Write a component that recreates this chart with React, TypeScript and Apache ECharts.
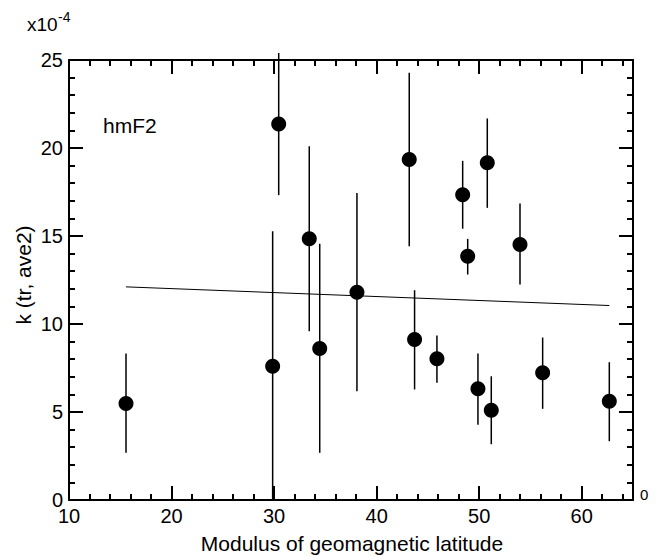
import React, { useEffect, useRef } from "react";
import * as echarts from "echarts";

const latitude = [15.56, 29.86, 30.45, 33.43, 34.45, 38.08, 43.18, 43.7, 45.88, 48.39, 48.88, 49.88, 50.79, 51.18, 53.98, 56.19, 62.69];
const kValue = [5.48, 7.6, 21.37, 14.84, 8.61, 11.81, 19.35, 9.12, 8.02, 17.34, 13.85, 6.32, 19.16, 5.1, 14.52, 7.23, 5.61];
const errHigh = [8.32, 15.27, 25.4, 20.1, 14.56, 17.44, 24.27, 11.92, 9.35, 19.27, 14.84, 8.32, 21.68, 7.03, 16.85, 9.23, 7.83];
const errLow = [2.68, 0, 17.32, 9.59, 2.68, 6.18, 14.42, 6.28, 6.66, 15.41, 12.81, 4.27, 16.6, 3.17, 12.24, 5.18, 3.34];
const fitLine = [
  [15.56, 12.11],
  [62.69, 11.05],
];

const FONT = "Liberation Sans";

export default function App() {
  const ref = useRef<HTMLDivElement>(null);
  useEffect(() => {
    if (!ref.current) return;
    const chart = echarts.init(ref.current, undefined, { renderer: "svg" });
    const axisCommon = {
      axisLine: { show: true, onZero: false, lineStyle: { color: "#000", width: 2 } },
      axisTick: { show: true, inside: true, length: 14, lineStyle: { color: "#000", width: 2 } },
      minorTick: { show: true, splitNumber: 5, length: 6, lineStyle: { color: "#000", width: 2 } },
      splitLine: { show: false },
      minorSplitLine: { show: false },
    };
    const xBase = { type: "value", min: 10, max: 65, interval: 10, ...axisCommon };
    const yBase = { type: "value", min: 0, max: 25, interval: 5, ...axisCommon };
    const errData = latitude.map((x, i) => [x, errLow[i], errHigh[i]]);
    const pts = latitude.map((x, i) => [x, kValue[i]]);
    chart.setOption({
      animation: false,
      backgroundColor: "#fff",
      grid: { left: 69, top: 60, width: 564, height: 440, containLabel: false },
      xAxis: [
        {
          ...xBase,
          position: "bottom",
          axisLabel: {
            show: true,
            showMaxLabel: false,
            margin: 9,
            lineHeight: 13,
            color: "#000",
            fontFamily: FONT,
            fontSize: 20,
          },
        },
        { ...xBase, position: "top", axisLabel: { show: false } },
      ],
      yAxis: [
        {
          ...yBase,
          position: "left",
          axisLabel: { show: true, margin: 6, lineHeight: 13, color: "#000", fontFamily: FONT, fontSize: 20 },
        },
        { ...yBase, position: "right", axisLabel: { show: false } },
      ],
      series: [
        {
          type: "custom",
          clip: false,
          data: errData,
          renderItem: (params: any, api: any) => {
            const x = api.value(0);
            const p1 = api.coord([x, api.value(1)]);
            const p2 = api.coord([x, api.value(2)]);
            return {
              type: "line",
              shape: { x1: p1[0], y1: p1[1], x2: p2[0], y2: p2[1] },
              style: { stroke: "#000", lineWidth: 1.5 },
            };
          },
          z: 2,
        },
        {
          type: "scatter",
          data: pts,
          symbol: "circle",
          symbolSize: 15,
          itemStyle: { color: "#000", opacity: 1 },
          z: 3,
        },
        {
          type: "line",
          data: fitLine,
          symbol: "none",
          lineStyle: { color: "#000", width: 1 },
          z: 2,
        },
      ],
      graphic: [
        {
          type: "text",
          x: 27,
          y: 24,
          style: { text: "x10", fill: "#000", font: `19px "${FONT}"`, textVerticalAlign: "middle" },
        },
        {
          type: "text",
          x: 58,
          y: 17,
          style: { text: "-4", fill: "#000", font: `14px "${FONT}"`, textVerticalAlign: "middle" },
        },
        {
          type: "text",
          x: 103,
          y: 125,
          style: { text: "hmF2", fill: "#000", font: `21px "${FONT}"`, textVerticalAlign: "middle" },
        },
        {
          type: "text",
          x: 640,
          y: 494,
          style: { text: "0", fill: "#000", font: `15px "${FONT}"`, textVerticalAlign: "middle" },
        },
        {
          type: "text",
          x: 352,
          y: 543,
          style: {
            text: "Modulus of geomagnetic latitude",
            fill: "#000",
            font: `21px "${FONT}"`,
            textAlign: "center",
            textVerticalAlign: "middle",
          },
        },
        {
          type: "text",
          x: 23,
          y: 275,
          rotation: Math.PI / 2,
          style: {
            text: "k (tr, ave2)",
            fill: "#000",
            font: `21px "${FONT}"`,
            textAlign: "center",
            textVerticalAlign: "middle",
          },
        },
      ],
    });
    return () => chart.dispose();
  }, []);
  return (
    <div
      ref={ref}
      style={{ position: "fixed", left: 0, top: 0, width: 660, height: 556 }}
    />
  );
}
